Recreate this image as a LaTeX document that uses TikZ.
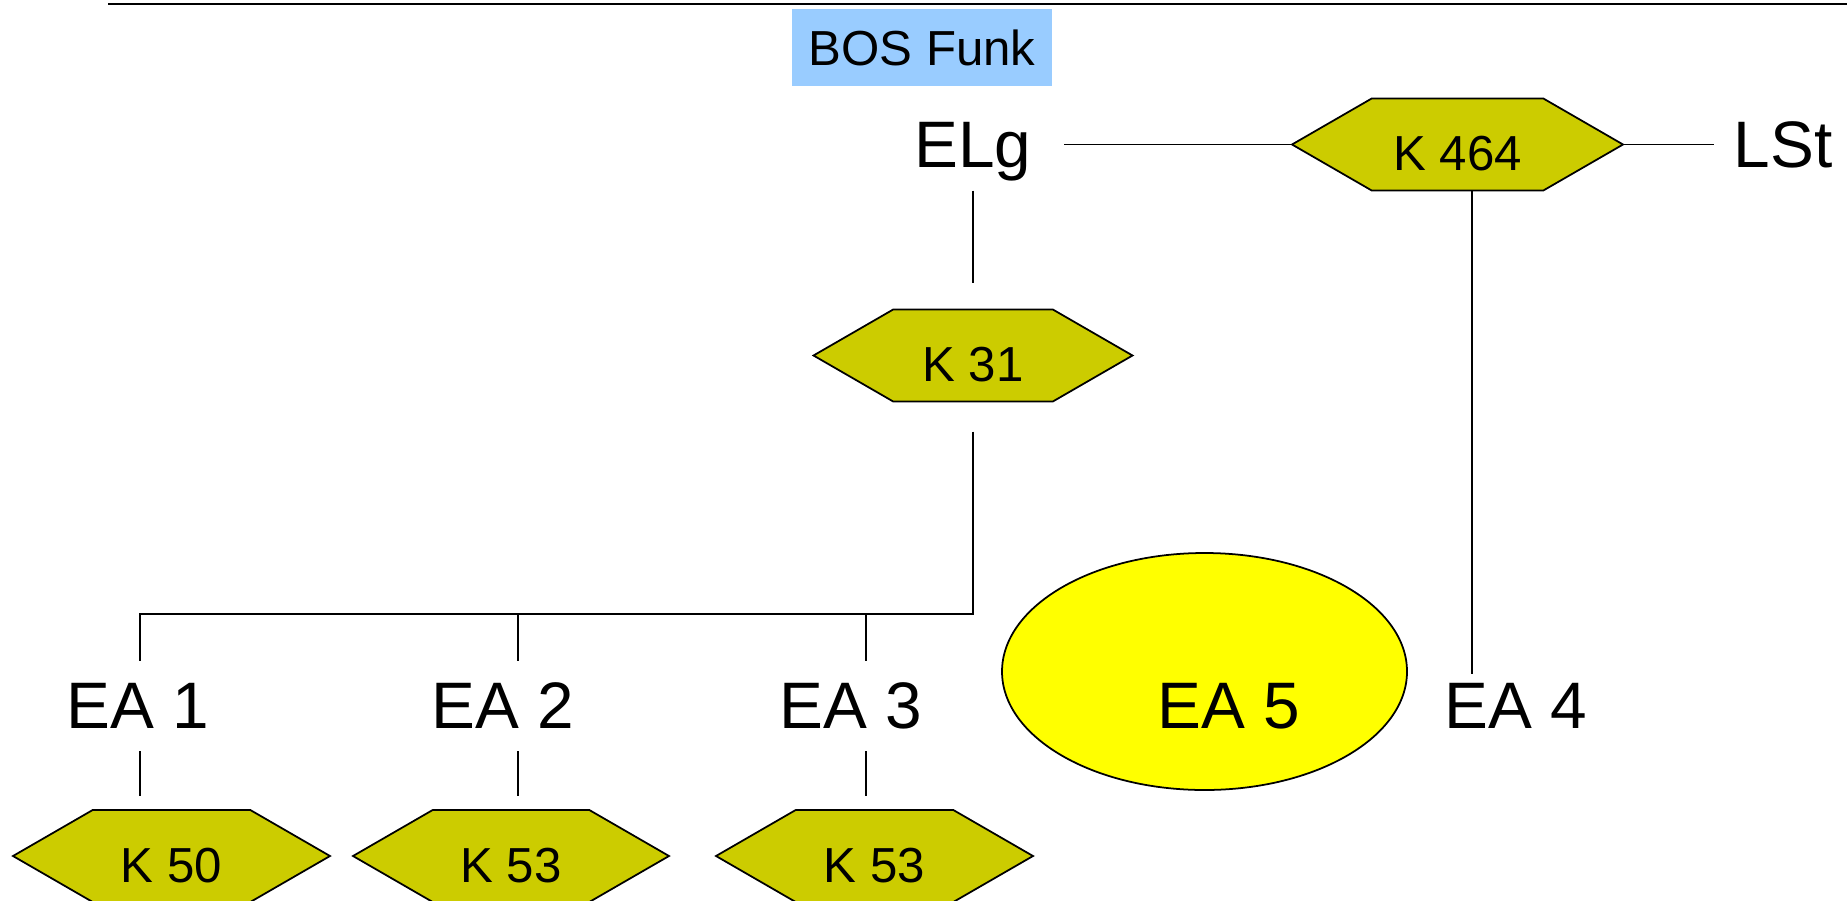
\documentclass[tikz,border=0pt]{standalone}
\usepackage{fontspec}
\setmainfont{Liberation Sans}
\usetikzlibrary{shapes.symbols,shapes.geometric}

\definecolor{kanal}{RGB}{204,204,0}
\definecolor{funk}{RGB}{153,204,255}
\definecolor{einsatz}{RGB}{255,255,0}

\tikzset{
  kbox/.style={signal, signal to=west and east, signal pointer angle=60,
    draw=black, fill=kanal, inner sep=1pt, outer sep=0pt,
    minimum height=9.2mm, text height=15pt, text depth=0pt,
    font=\fontsize{14}{17}\selectfont},
  lbl/.style={inner sep=0pt, outer sep=0pt, minimum height=9mm,
    text depth=0pt, font=\fontsize{18.7}{22}\selectfont}
}

\begin{document}
\begin{tikzpicture}[x=0.1mm,y=-0.1mm,line width=0.5pt]
\useasboundingbox (0,0) rectangle (1847,900);
\draw[line width=0.85pt] (108,4) -- (1847,4);
%%%% top row
\node[fill=funk, inner sep=0pt, minimum width=26mm, minimum height=7.7mm,
  font=\fontsize{14}{17}\selectfont] (bos) at (922,47.5) {BOS Funk};
\node[lbl, minimum width=18.2mm, minimum height=9.2mm] (ELg) at (973,144.5) {ELg};
\node[kbox, minimum width=33.1mm] (K464) at (1457.5,144.5) {K 464};
\node[lbl, minimum width=13.8mm, minimum height=9.2mm] (LSt) at (1783,144.5) {LSt};
\node[kbox, minimum width=31.9mm] (K31) at (973,355.5) {K 31};
%%%% EA row
\node[lbl] (EA1) at (137.5,706) {EA 1};
\node[lbl] (EA2) at (503,706) {EA 2};
\node[lbl] (EA3) at (851,706) {EA 3};
\node[lbl] (EA4) at (1516,706) {EA 4};
\node[ellipse, draw, fill=einsatz, minimum width=40.5mm, minimum height=23.7mm]
  (ea5) at (1204.5,671.5) {};
\node[lbl] (EA5) at (1228.5,706) {EA 5};
%%%% channels
\node[kbox, minimum width=31.7mm] (K50) at (171.5,856) {K 50};
\node[kbox, minimum width=31.6mm] (K53a) at (511,856) {K 53};
\node[kbox, minimum width=31.7mm] (K53b) at (874.5,856) {K 53};
%
\coordinate (bus) at (973,614);
\coordinate (d1) at (140,614);
\coordinate (d2) at (518,614);
\coordinate (d3) at (866,614);
\coordinate (d4) at (1472,674);
%%% lines
\draw (ELg.east) -- (K464.west);
\draw (K464.east) -- (LSt.west);
\draw[shorten >=2.7mm] (ELg.south) -- (K31.north);
\draw (d4 |- K464.south) -- (d4);
\draw[shorten <=3mm] (K31.south) -- (bus) -- (d1) -- (d1 |- EA1.north);
\draw (d2) -- (d2 |- EA2.north);
\draw (d3) -- (d3 |- EA3.north);
\draw[shorten >=1.4mm] (d1 |- EA1.south) -- (d1 |- K50.north);
\draw[shorten >=1.4mm] (d2 |- EA2.south) -- (d2 |- K53a.north);
\draw[shorten >=1.4mm] (d3 |- EA3.south) -- (d3 |- K53b.north);
\end{tikzpicture}
\end{document}
